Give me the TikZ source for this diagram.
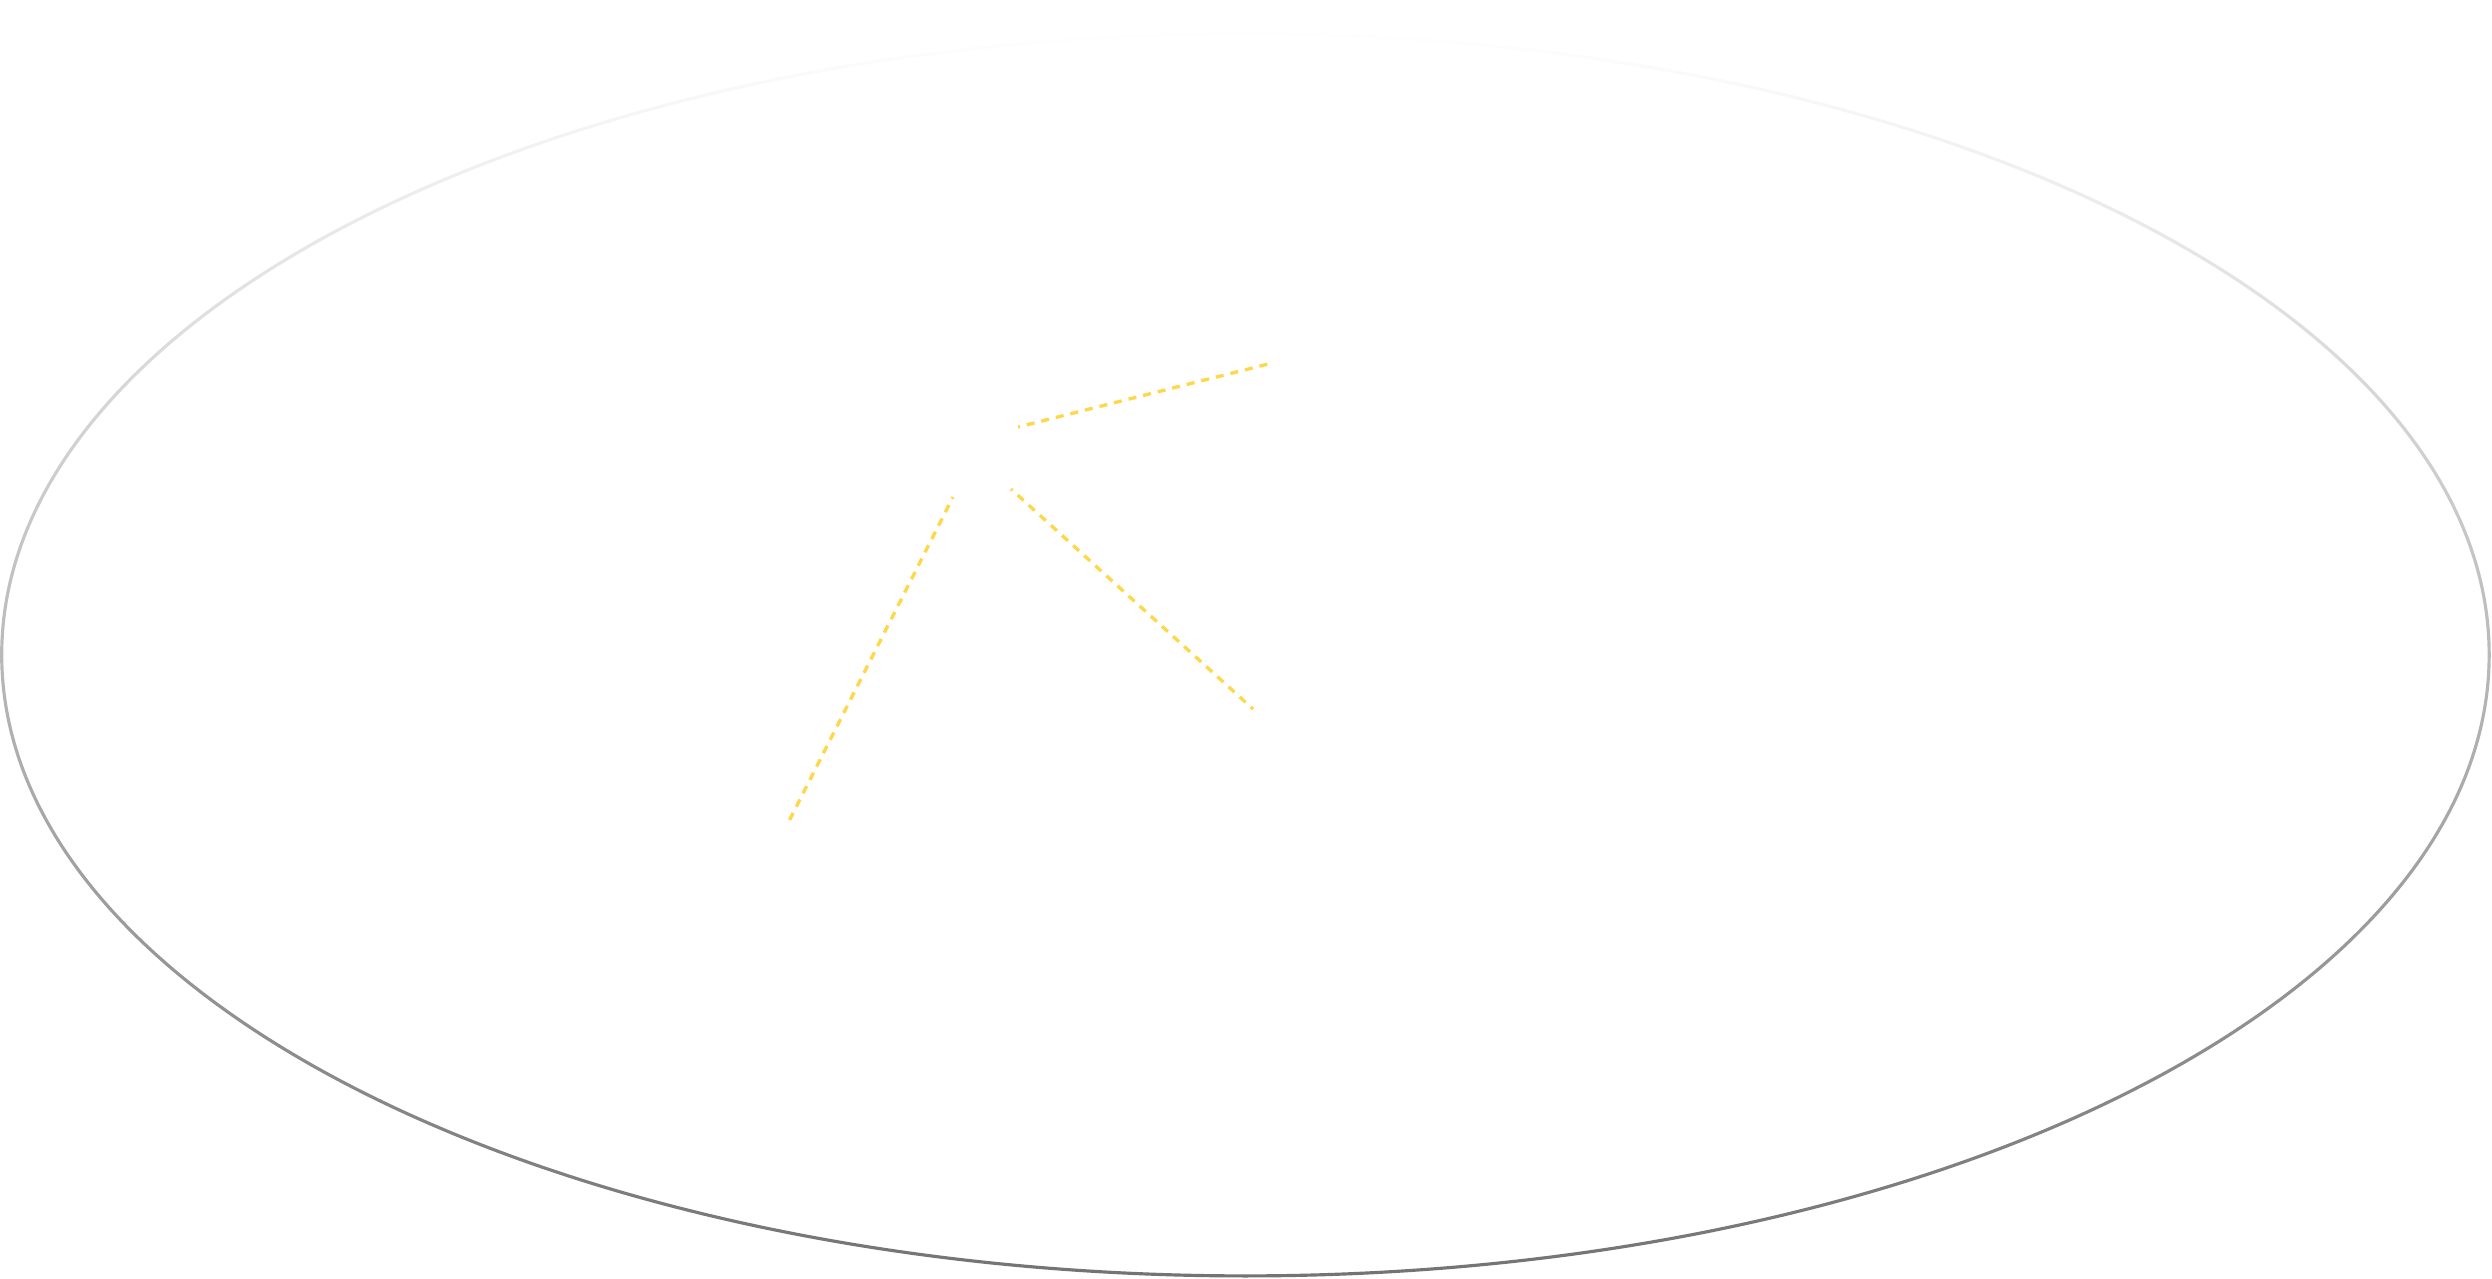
\documentclass[tikz,border=0pt]{standalone}
\usepackage{xcolor}
\usetikzlibrary{
fadings,
backgrounds
}
\definecolor{rayyellow}{HTML}{FFD84A}
\definecolor{ringgray}{HTML}{737373}
\tikzfading[name=ringfade,
  top color=transparent!100,
  middle color=transparent!75,
  bottom color=transparent!0]

\begin{document}
\begin{tikzpicture}[
      x=1mm, y=-1mm,
      ring/.style={
        draw=ringgray,
        line width=0.9pt,
        path fading=ringfade
      },
      ray/.style={
        draw=rayyellow,
        line width=0.95pt,
        dash pattern=on 0.8mm off 0.7mm,
        dash phase=0.6mm
      }
    ]
    \useasboundingbox (0,0) rectangle (249.2,127.8);

    \coordinate (ctr) at (124.6,65.5);
    \draw[ring] (ctr) ellipse [x radius=124.4mm, y radius=62.1mm];

    % rays
    \coordinate (r1a) at (101.8,42.7);
    \coordinate (r1b) at (127.2,36.3);
    \coordinate (r2a) at (101.1,48.9);
    \coordinate (r2b) at (125.3,70.9);
    \coordinate (r3a) at (95.3,49.7);
    \coordinate (r3b) at (78.7,82.5);
    \draw[ray] (r1a) -- (r1b);
    \draw[ray] (r2a) -- (r2b);
    \draw[ray] (r3a) -- (r3b);

  \end{tikzpicture}
\end{document}
